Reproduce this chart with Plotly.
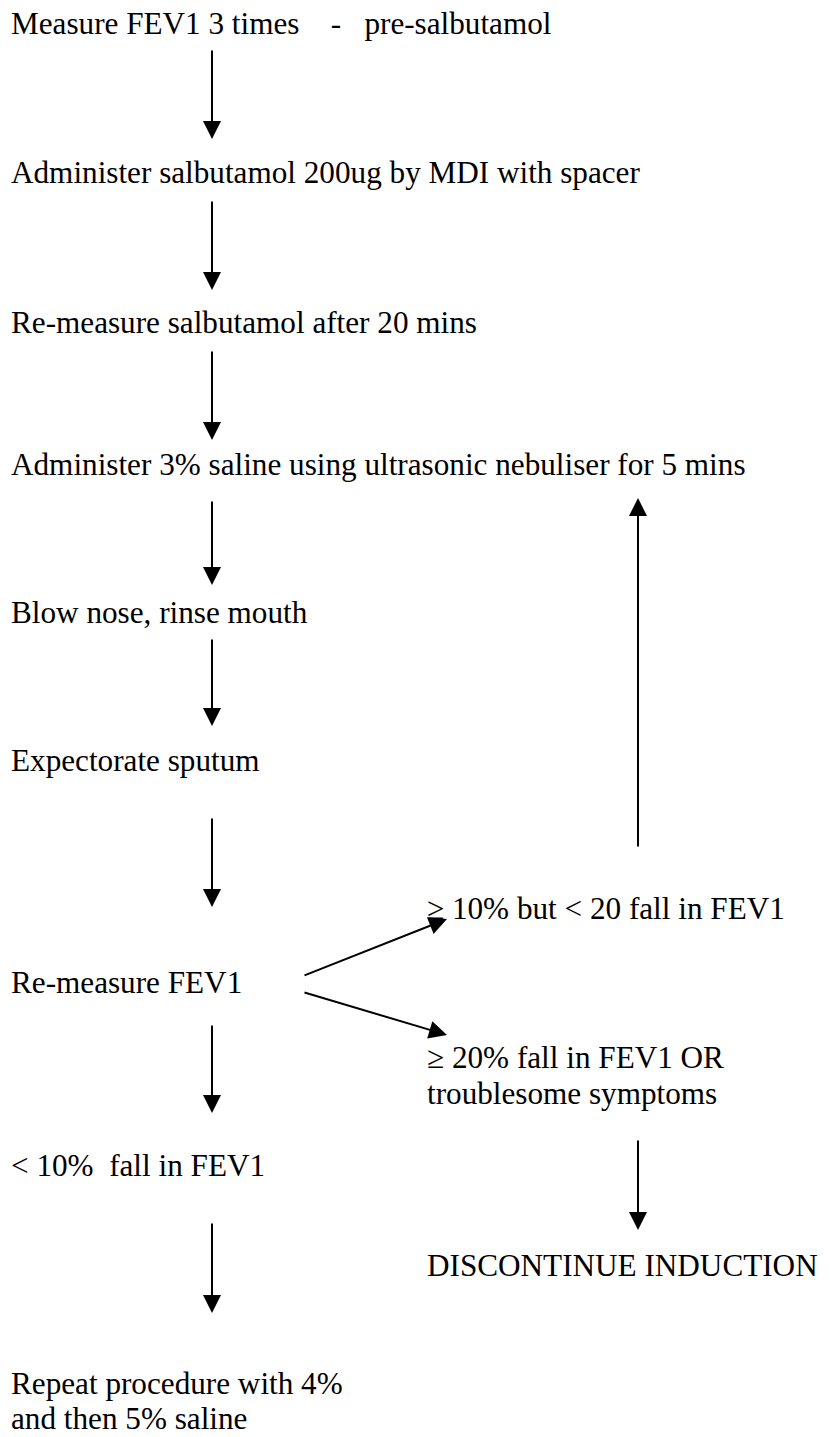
import plotly.graph_objects as go

W, H = 830, 1437
FONT = "Liberation Serif"
NB = "\u00a0"

# Flowchart node labels
step_labels = [
    "Measure FEV1 3 times" + NB * 4 + "-" + NB * 3 + "pre-salbutamol",
    "Administer salbutamol 200ug by MDI with spacer",
    "Re-measure salbutamol after 20 mins",
    "Administer 3% saline using ultrasonic nebuliser for 5 mins",
    "Blow nose, rinse mouth",
    "Expectorate sputum",
    "Re-measure FEV1",
    "&lt; 10%" + NB * 2 + "fall in FEV1",
    "Repeat procedure with 4%",
    "and then 5% saline",
    "\u2265 10% but &lt; 20 fall in FEV1",
    "\u2265 20% fall in FEV1 OR",
    "troublesome symptoms",
    "DISCONTINUE INDUCTION",
]
step_x = [9, 9, 9, 9, 9, 9, 9, 9, 9, 9, 425, 425, 425, 425]
step_y = [23, 172, 322, 464, 612, 760, 982, 1165, 1384, 1419, 908, 1057, 1093, 1265]
# compact text boxes for the two closely spaced bottom lines
step_box_h = [None] * 8 + [33, 33] + [None] * 4

# Arrow connectors: tail (x0, y0) -> head (x1, y1)
arrow_x0 = [212, 212, 212, 212, 212, 212, 212, 212, 638, 638, 303, 303]
arrow_y0 = [49, 200, 350, 500, 638, 817, 1024, 1222, 1139, 848, 976, 992]
arrow_x1 = [212, 212, 212, 212, 212, 212, 212, 212, 638, 638, 447, 447]
arrow_y1 = [139, 290, 440, 585, 726, 907, 1113, 1313, 1230, 498, 919, 1035]

fig = go.Figure()
fig.add_trace(go.Scatter(x=[0, W], y=[0, H], mode="markers",
                         marker=dict(opacity=0), hoverinfo="skip", showlegend=False))

for t, x, y, bh in zip(step_labels, step_x, step_y, step_box_h):
    kw = {}
    if bh is not None:
        kw = dict(height=bh, valign="bottom")
    fig.add_annotation(x=x, y=y, xref="x", yref="y", text=t, showarrow=False,
                       xanchor="left", yanchor="middle",
                       font=dict(family=FONT, size=31.2, color="black"), **kw)

for x0, y0, x1, y1 in zip(arrow_x0, arrow_y0, arrow_x1, arrow_y1):
    fig.add_annotation(x=x1, y=y1, ax=x0, ay=y0, xref="x", yref="y",
                       axref="x", ayref="y", text="", showarrow=True,
                       arrowhead=2, arrowsize=1.8, arrowwidth=2, arrowcolor="black",
                       standoff=0, startstandoff=0)

fig.update_xaxes(range=[0, W], visible=False, fixedrange=True)
fig.update_yaxes(range=[H, 0], visible=False, fixedrange=True)
fig.update_layout(width=W, height=H, margin=dict(l=0, r=0, t=0, b=0),
                  plot_bgcolor="white", paper_bgcolor="white", showlegend=False)

fig.write_html("out.html", config={"displayModeBar": False},
               post_script="document.body.style.margin='0';document.body.style.overflow='hidden';")
